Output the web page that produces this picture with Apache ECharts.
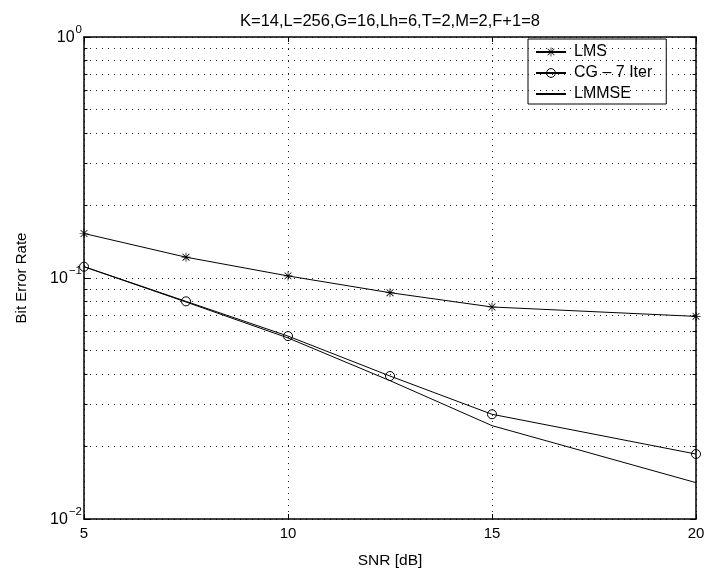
<!DOCTYPE html>
<html>
<head>
<meta charset="utf-8">
<script src="https://cdn.jsdelivr.net/npm/echarts@6/dist/echarts.min.js"></script>
<style>html,body{margin:0;padding:0;background:#fff}#c{width:708px;height:575px}</style>
</head>
<body>
<div id="c"></div>
<script>
var snr = [5, 7.5, 10, 12.5, 15, 20];
var lms = [0.153, 0.122, 0.102, 0.0869, 0.0758, 0.0693];
var cg = [0.1114, 0.0800, 0.0574, 0.0392, 0.0272, 0.0186];
var lmmse = [0.1114, 0.0795, 0.0564, 0.0375, 0.0244, 0.01415];
var xTicks = [5, 10, 15, 20];
var minorLevels = [0.02,0.03,0.04,0.05,0.06,0.07,0.08,0.09,0.2,0.3,0.4,0.5,0.6,0.7,0.8,0.9];
var seriesNames = ['LMS', 'CG – 7 Iter', 'LMMSE'];
var titleText = 'K=14,L=256,G=16,Lh=6,T=2,M=2,F+1=8';

var FONT = 'Liberation Sans, Arial, Helvetica, sans-serif';
var starPath = 'path://M4.6 0 h0.8 v10 h-0.8 z M0 4.6 h10 v0.8 h-10 z M1.5 0.9 L9.1 8.5 L8.5 9.1 L0.9 1.5 z M8.5 0.9 L9.1 1.5 L1.5 9.1 L0.9 8.5 z';
var dotted = {color: '#222', width: 1, type: [1, 5]};

function zip(a, b) { return a.map(function (v, i) { return [v, b[i]]; }); }

var gridLines = minorLevels.map(function (v) { return {yAxis: v}; });
var minorTicks = [];
minorLevels.forEach(function (v) {
  minorTicks.push([{coord: [5, v]}, {coord: [5.085, v]}]);
  minorTicks.push([{coord: [19.915, v]}, {coord: [20, v]}]);
});

function yLabel(v) {
  var e = Math.round(Math.log10(v));
  return '{b|10}{s|' + (e < 0 ? '\u2212' + (-e) : e) + '}';
}

var chart = echarts.init(document.getElementById('c'), null, {renderer: 'canvas'});
chart.setOption({
  animation: false,
  backgroundColor: '#fff',
  textStyle: {fontFamily: FONT, color: '#000'},
  title: {
    text: titleText, left: 385, textAlign: 'center', top: 8,
    textStyle: {fontSize: 16.5, fontWeight: 'normal', color: '#000', fontFamily: FONT}
  },
  grid: {left: 84, right: 12, top: 37, bottom: 56, containLabel: false},
  legend: {
    orient: 'vertical', left: 528, top: 39,
    padding: [5, 14, 2, 7],
    itemWidth: 30, itemHeight: 11, itemGap: 5,
    backgroundColor: '#fff', borderColor: '#000', borderWidth: 1,
    textStyle: {fontSize: 16, color: '#000', fontFamily: FONT, lineHeight: 14, padding: [0, 0, 0, 3]},
    data: [
      {name: seriesNames[0]},
      {name: seriesNames[1], itemStyle: {color: 'rgba(0,0,0,0)', borderColor: '#000', borderWidth: 1}},
      {name: seriesNames[2], itemStyle: {color: 'rgba(0,0,0,0)', borderColor: 'rgba(0,0,0,0)', borderWidth: 0}}
    ]
  },
  xAxis: [{
    type: 'value', min: 5, max: 20, interval: 5,
    name: 'SNR [dB]', nameLocation: 'middle', nameGap: 34,
    nameTextStyle: {fontSize: 15.5, color: '#000', fontFamily: FONT},
    axisLine: {onZero: false, lineStyle: {color: '#000', width: 1.5}},
    axisTick: {inside: true, length: 5, lineStyle: {color: '#000'}},
    axisLabel: {fontSize: 15, color: '#000', margin: 7, fontFamily: FONT,
      customValues: xTicks},
    splitLine: {show: true, lineStyle: dotted}
  }, {
    type: 'value', min: 5, max: 20, interval: 5, position: 'top',
    axisLine: {onZero: false, lineStyle: {color: '#000', width: 1.5}},
    axisTick: {inside: true, length: 5, lineStyle: {color: '#000'}},
    axisLabel: {show: false}, splitLine: {show: false}
  }],
  yAxis: [{
    type: 'log', logBase: 10, min: 0.01, max: 1,
    name: 'Bit Error Rate', nameLocation: 'middle', nameGap: 55,
    nameTextStyle: {fontSize: 15, color: '#000', fontFamily: FONT},
    axisLine: {show: true, onZero: false, lineStyle: {color: '#000', width: 1.5}},
    axisTick: {inside: true, length: 6, lineStyle: {color: '#000'}},
    axisLabel: {
      margin: 2, formatter: yLabel, padding: [0, 0, 4, 0],
      rich: {
        b: {fontSize: 16, color: '#000', fontFamily: FONT, verticalAlign: 'bottom'},
        s: {fontSize: 11.5, color: '#000', fontFamily: FONT, verticalAlign: 'bottom', padding: [0, 0, 10, 1]}
      }
    },
    splitLine: {show: true, lineStyle: dotted}
  }, {
    type: 'log', logBase: 10, min: 0.01, max: 1, position: 'right',
    axisLine: {show: true, onZero: false, lineStyle: {color: '#000', width: 1.5}},
    axisTick: {inside: true, length: 6, lineStyle: {color: '#000'}},
    axisLabel: {show: false}, splitLine: {show: false}
  }],
  series: [{
    name: seriesNames[0], type: 'line', data: zip(snr, lms),
    symbol: starPath, symbolSize: 9,
    lineStyle: {color: '#000', width: 1},
    itemStyle: {color: '#000'}
  }, {
    name: seriesNames[1], type: 'line', data: zip(snr, cg),
    symbol: 'circle', symbolSize: 9,
    lineStyle: {color: '#000', width: 1},
    itemStyle: {color: 'rgba(0,0,0,0)', borderColor: '#000', borderWidth: 1}
  }, {
    name: seriesNames[2], type: 'line', data: zip(snr, lmmse),
    symbol: 'none',
    lineStyle: {color: '#000', width: 1},
    itemStyle: {color: '#000'},
    z: 1,
    markLine: {
      silent: true, symbol: ['none', 'none'], label: {show: false},
      animation: false,
      lineStyle: {color: '#222', width: 1, type: [1, 5]},
      data: gridLines
    }
  }, {
    name: 'ticks', type: 'line', data: [], z: 3,
    markLine: {
      silent: true, symbol: ['none', 'none'], label: {show: false},
      animation: false,
      lineStyle: {color: '#000', width: 1, type: 'solid'},
      data: minorTicks
    }
  }]
});
</script>
</body>
</html>
